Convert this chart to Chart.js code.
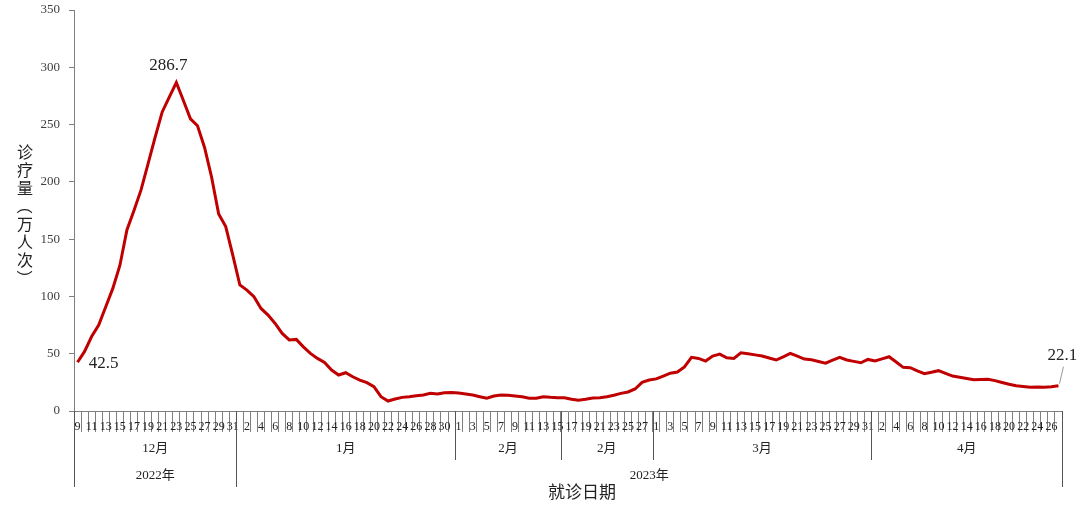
<!DOCTYPE html>
<html>
<head>
<meta charset="utf-8">
<script src="https://cdn.jsdelivr.net/npm/chart.js@4/dist/chart.umd.min.js"></script>
<style>
html, body { margin: 0; padding: 0; background: #fff; }
</style>
</head>
<body>
<canvas id="canvas_visits" width="1080" height="511"></canvas>
<script>
// days shown in each month, Dec 9 2022 .. Apr 27 2023
var monthFirstDay = [9, 1, 1, 1, 1];
var monthLength = [23, 31, 28, 31, 27];

// lower axis groups (category index where each group starts, last = end)
var monthGroupLabels = ['12月', '1月', '2月', '2月', '3月', '4月'];
var monthGroupStarts = [0, 23, 54, 69, 82, 113, 140];
var yearLabels = ['2022年', '2023年'];
var yearStarts = [0, 23, 140];

var yTicks = [0, 50, 100, 150, 200, 250, 300, 350];

// 诊疗量（万人次）
var visitsDec = [42.5, 52, 65, 75, 91, 107, 127, 158, 175, 193, 216, 239, 261, 274, 286.7, 271, 255, 249, 230, 204, 172, 161, 136];
var visitsJan = [110, 105.5, 99.7, 89.5, 83.7, 76.4, 67.7, 62, 62.5, 56, 50.3, 45.9, 42.4, 35.7, 31.4, 33.4, 29.9, 27, 24.7, 21.2, 12.5, 8.7, 10.5, 11.9, 12.5, 13.3, 14, 15.4, 14.8, 16, 16.2];
var visitsFeb = [15.7, 14.8, 14, 12.5, 11.1, 13.1, 14, 13.7, 13.1, 12.5, 11.1, 11.1, 12.5, 11.9, 11.6, 11.6, 10.2, 9.3, 10.2, 11.3, 11.6, 12.5, 13.7, 15.4, 16.6, 19.2, 25, 27];
var visitsMar = [28, 30.5, 33, 34, 38.5, 46.8, 45.9, 43.6, 48, 49.7, 46.5, 45.9, 50.8, 50, 49, 48, 46.3, 44.5, 47.3, 50.3, 47.8, 45.3, 44.7, 43.2, 41.8, 44.4, 46.8, 44.5, 43.3, 42.1, 45];
var visitsApr = [43.6, 45.5, 47.4, 42.8, 38.1, 37.8, 35, 32.5, 33.8, 35.2, 32.8, 30.5, 29.5, 28.4, 27.2, 27.4, 27.7, 26.5, 24.9, 23.4, 22.1, 21.4, 20.7, 21, 20.8, 21.2, 22.1];

// points that carry a value label, with label offset
var labelIndex = [0, 14, 139];
var labelDx = [26, -8, 4];
var labelDy = [1, -17, -30];

var serif = "'Liberation Serif', 'Noto Sans CJK SC'";
var cjk = "'Noto Sans CJK SC'";

var days = [];
for (var m = 0; m < monthLength.length; m++) {
  for (var d = 0; d < monthLength[m]; d++) {
    days.push(String(monthFirstDay[m] + d));
  }
}
var visits = visitsDec.concat(visitsJan, visitsFeb, visitsMar, visitsApr);

var extras = {
  id: 'extras',
  afterDraw: function(chart) {
    var ctx = chart.ctx;
    var area = chart.chartArea;
    var w = (area.right - area.left) / days.length;
    var bottom = area.bottom;
    ctx.save();

    // group separators
    ctx.strokeStyle = '#555';
    ctx.lineWidth = 1;
    for (var i = 0; i < monthGroupStarts.length; i++) {
      var k = monthGroupStarts[i];
      var x = Math.round(area.left + k * w) + 0.5;
      var long = yearStarts.indexOf(k) >= 0;
      ctx.beginPath();
      ctx.moveTo(x, bottom);
      ctx.lineTo(x, long ? 487 : 460);
      ctx.stroke();
    }

    ctx.fillStyle = '#222';
    ctx.textAlign = 'center';
    ctx.textBaseline = 'middle';
    ctx.font = '13px ' + serif;
    for (var j = 0; j < monthGroupLabels.length; j++) {
      var cx = area.left + (monthGroupStarts[j] + monthGroupStarts[j + 1]) / 2 * w;
      ctx.fillText(monthGroupLabels[j], cx, 449);
    }
    for (var y = 0; y < yearLabels.length; y++) {
      var yx = area.left + (yearStarts[y] + yearStarts[y + 1]) / 2 * w;
      ctx.fillText(yearLabels[y], yx, 476);
    }

    // axis titles
    ctx.font = '17px ' + cjk;
    ctx.fillText('就诊日期', 582, 492);
    // vertical title, brackets turned as in vertical writing
    var title = '诊疗量（万人次）';
    ctx.font = '16px ' + cjk;
    for (var c = 0; c < title.length; c++) {
      var ty = 152 + c * 18;
      if (title[c] === '（' || title[c] === '）') {
        ctx.save();
        ctx.translate(25, ty);
        ctx.rotate(Math.PI / 2);
        ctx.fillText(title[c], 0, 0);
        ctx.restore();
      } else {
        ctx.fillText(title[c], 25, ty);
      }
    }

    // value labels
    var meta = chart.getDatasetMeta(0);
    ctx.font = '17px ' + serif;
    for (var n = 0; n < labelIndex.length; n++) {
      var p = meta.data[labelIndex[n]];
      ctx.fillText(String(visits[labelIndex[n]]), p.x + labelDx[n], p.y + labelDy[n]);
    }
    var last = meta.data[139];
    ctx.strokeStyle = '#999';
    ctx.beginPath();
    ctx.moveTo(last.x + 5, last.y - 19);
    ctx.lineTo(last.x + 1, last.y - 2);
    ctx.stroke();
    ctx.restore();
  }
};

var ctx = document.getElementById('canvas_visits');
var visitsChart = new Chart(ctx, {
  type: 'line',
  data: {
    labels: days,
    datasets: [{
      data: visits,
      borderColor: '#c00000',
      borderWidth: 3,
      pointRadius: 0,
      tension: 0,
      fill: false
    }]
  },
  options: {
    responsive: false,
    animation: false,
    devicePixelRatio: 1,
    layout: { padding: { top: 10, right: 18, left: 0, bottom: 0 } },
    plugins: { legend: { display: false }, tooltip: { enabled: false } },
    scales: {
      x: {
        type: 'category',
        offset: true,
        grid: { offset: true, drawOnChartArea: false, drawTicks: true, tickLength: 21, color: '#7f7f7f' },
        border: { color: '#7f7f7f' },
        ticks: {
          autoSkip: false,
          maxRotation: 0,
          minRotation: 0,
          padding: -12,
          color: '#222',
          font: { family: serif, size: 12 },
          callback: function(v, i) { return i % 2 === 0 ? this.getLabelForValue(v) : ''; }
        },
        afterFit: function(s) { s.height = 100; s.paddingLeft = 0; s.paddingRight = 0; }
      },
      y: {
        min: 0,
        max: 350,
        afterBuildTicks: function(s) { s.ticks = yTicks.map(function(v) { return { value: v }; }); },
        grid: { drawOnChartArea: false, tickLength: 5, color: '#7f7f7f' },
        border: { color: '#7f7f7f' },
        ticks: { padding: 9, color: '#404040', font: { family: serif, size: 13 } },
        afterFit: function(s) { s.width = 74; s.paddingTop = 0; s.paddingBottom = 0; }
      }
    }
  },
  plugins: [extras]
});
</script>
</body>
</html>
